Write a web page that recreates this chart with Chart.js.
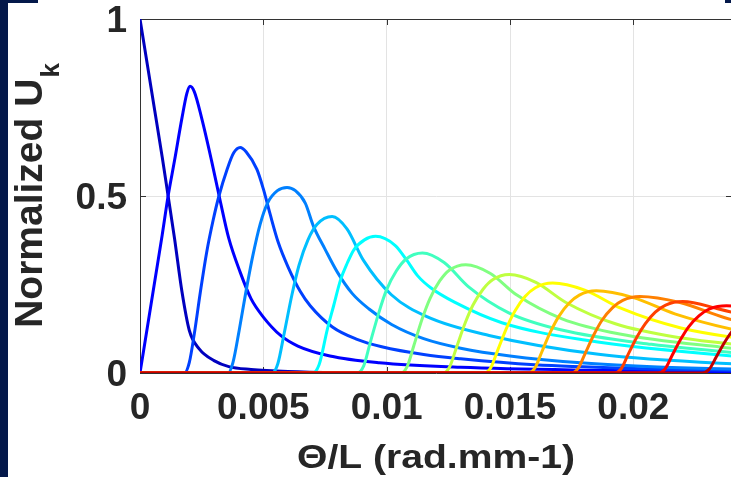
<!DOCTYPE html>
<html>
<head>
<meta charset="utf-8">
<script src="https://cdn.jsdelivr.net/npm/chart.js@4.4.1/dist/chart.umd.min.js"></script>
<style>
  html, body { margin: 0; padding: 0; background: #fff; overflow: hidden; width: 731px; height: 477px; }
  #wrap { position: relative; width: 731px; height: 477px; overflow: hidden; }
  #chart { position: absolute; left: 0; top: 0; }
  .frame { position: absolute; background: #04184a; }
</style>
</head>
<body>
<div id="wrap">
  <canvas id="chart" width="740" height="477"></canvas>
  <div class="frame" style="left:0;top:0;width:8px;height:477px;"></div>
  <div class="frame" style="left:0;top:0;width:38px;height:3px;"></div>
  <div class="frame" style="left:725px;top:0;width:6px;height:3px;"></div>
</div>
<script>
// axis ticks and labels
const xTicks = [0, 0.005, 0.01, 0.015, 0.02];
const xTickLabels = ['0', '0.005', '0.01', '0.015', '0.02'];
const yTicks = [0, 0.5, 1];
const yTickLabels = ['0', '0.5', '1'];

// Normalized U_k curves, [theta/L, value]
const u0 = [[0,1],[0.0003,0.87],[0.0006,0.74],[0.0009,0.61],[0.00114,0.5],[0.0014,0.38],[0.0017,0.23],[0.002,0.12],[0.0024,0.068],[0.003,0.035],[0.0036,0.018],[0.0045,0.01],[0.006,0.004],[0.008,0.001],[0.012,0],[0.026,0]];
const u1 = [[0,0],[0.0003,0.13],[0.0006,0.26],[0.0009,0.39],[0.00114,0.5],[0.0014,0.6],[0.0017,0.72],[0.0019,0.79],[0.00203,0.81],[0.0022,0.795],[0.0025,0.72],[0.0029,0.6],[0.00324,0.49],[0.0036,0.38],[0.00406,0.285],[0.0045,0.21],[0.005,0.158],[0.0057,0.106],[0.0064,0.076],[0.0077,0.048],[0.0097,0.029],[0.013,0.016],[0.018,0.008],[0.026,0.003]];
const u2 = [[0,0],[0.0018,0],[0.002,0.03],[0.0022,0.11],[0.00245,0.23],[0.0027,0.34],[0.00296,0.43],[0.0032,0.5],[0.00353,0.575],[0.0038,0.622],[0.00406,0.637],[0.0043,0.625],[0.00474,0.575],[0.005,0.52],[0.00527,0.45],[0.0056,0.37],[0.006,0.3],[0.0065,0.23],[0.0069,0.19],[0.0078,0.13],[0.0088,0.095],[0.0098,0.074],[0.0115,0.052],[0.013,0.04],[0.016,0.023],[0.02,0.013],[0.026,0.006]];
const u3 = [[0,0],[0.00357,0],[0.00377,0.03],[0.00402,0.12],[0.00427,0.22],[0.00457,0.33],[0.00487,0.42],[0.00517,0.48],[0.00557,0.515],[0.00596,0.524],[0.0063,0.515],[0.0067,0.48],[0.00703,0.415],[0.0075,0.35],[0.008,0.285],[0.0086,0.225],[0.0093,0.18],[0.0102,0.137],[0.0115,0.097],[0.013,0.07],[0.015,0.048],[0.018,0.028],[0.021,0.017],[0.026,0.008]];
const u4 = [[0,0],[0.00535,0],[0.00559,0.027],[0.00584,0.11],[0.00616,0.221],[0.00645,0.305],[0.00681,0.376],[0.00718,0.42],[0.00779,0.442],[0.00839,0.407],[0.00906,0.318],[0.01019,0.221],[0.01163,0.159],[0.01415,0.106],[0.01859,0.053],[0.026,0.018]];
const u5 = [[0,0],[0.007,0],[0.00726,0.023],[0.00759,0.122],[0.00785,0.19],[0.00813,0.263],[0.0084,0.31],[0.00867,0.348],[0.0091,0.376],[0.00955,0.386],[0.01035,0.36],[0.0108,0.32],[0.01125,0.275],[0.0118,0.24],[0.01275,0.2],[0.01467,0.142],[0.01803,0.093],[0.024,0.048],[0.026,0.04]];
const u6 = [[0,0],[0.0088,0],[0.00907,0.02],[0.00933,0.085],[0.00968,0.17],[0.00999,0.234],[0.01039,0.288],[0.01079,0.322],[0.01145,0.339],[0.01233,0.312],[0.01331,0.244],[0.01495,0.17],[0.01705,0.122],[0.02073,0.081],[0.026,0.046]];
const u7 = [[0,0],[0.01057,0],[0.01083,0.018],[0.0111,0.077],[0.01144,0.153],[0.01176,0.211],[0.01215,0.26],[0.01255,0.291],[0.01321,0.306],[0.01419,0.282],[0.01528,0.22],[0.01711,0.153],[0.01945,0.11],[0.02355,0.073],[0.026,0.057]];
const u8 = [[0,0],[0.01228,0],[0.01255,0.017],[0.01282,0.07],[0.01317,0.139],[0.0135,0.192],[0.0139,0.236],[0.01431,0.264],[0.01497,0.278],[0.01605,0.256],[0.01725,0.2],[0.01927,0.139],[0.02185,0.1],[0.026,0.068]];
const u9 = [[0,0],[0.01394,0],[0.01422,0.015],[0.0145,0.064],[0.01486,0.127],[0.0152,0.175],[0.01561,0.216],[0.01603,0.241],[0.01673,0.254],[0.01803,0.234],[0.01949,0.183],[0.02193,0.127],[0.02505,0.091],[0.026,0.084]];
const u10 = [[0,0],[0.01573,0],[0.01601,0.014],[0.01628,0.058],[0.01664,0.116],[0.01698,0.16],[0.01739,0.197],[0.01781,0.22],[0.0185,0.232],[0.02,0.213],[0.02168,0.167],[0.0245,0.116],[0.026,0.1]];
const u11 = [[0,0],[0.01748,0],[0.01776,0.013],[0.01804,0.054],[0.0184,0.108],[0.01873,0.149],[0.01915,0.184],[0.01957,0.205],[0.02026,0.216],[0.02189,0.199],[0.02371,0.156],[0.026,0.119]];
const u12 = [[0,0],[0.01923,0],[0.01951,0.012],[0.01978,0.051],[0.02014,0.101],[0.02048,0.139],[0.02089,0.172],[0.02131,0.192],[0.022,0.202],[0.0235,0.18],[0.026,0.135]];
const u13 = [[0,0],[0.021,0],[0.02128,0.011],[0.02156,0.048],[0.02192,0.095],[0.02225,0.131],[0.02267,0.162],[0.02309,0.181],[0.02378,0.19],[0.0245,0.185],[0.026,0.165]];
const u14 = [[0,0],[0.0228,0],[0.02308,0.011],[0.02336,0.045],[0.02372,0.089],[0.02406,0.123],[0.02448,0.151],[0.0249,0.169],[0.0256,0.178],[0.026,0.177]];

const curves = [u0, u1, u2, u3, u4, u5, u6, u7, u8, u9, u10, u11, u12, u13, u14];
const jetColors = ['#0000BF', '#0000FF', '#0040FF', '#0080FF', '#00BFFF', '#00FFFF', '#40FFBF', '#80FF80',
                   '#BFFF40', '#FFFF00', '#FFBF00', '#FF8000', '#FF4000', '#FF0000', '#BF0000'];

const textColor = '#262626';
const axisColor = '#333333';
const fontFamily = '"Liberation Sans", Arial, Helvetica, sans-serif';

// box, inward tick marks and the two axis titles
const axesDecor = {
  id: 'axesDecor',
  beforeDatasetsDraw(chart) {
    const { ctx, chartArea: a, scales: { x, y } } = chart;
    ctx.save();
    ctx.strokeStyle = axisColor;
    ctx.lineWidth = 1;
    ctx.beginPath();
    ctx.moveTo(a.left, a.top + 0.5);
    ctx.lineTo(a.right, a.top + 0.5);
    xTicks.forEach(v => {
      const px = Math.round(x.getPixelForValue(v)) + 0.5;
      ctx.moveTo(px, a.bottom); ctx.lineTo(px, a.bottom - 6);
      ctx.moveTo(px, a.top); ctx.lineTo(px, a.top + 6);
    });
    yTicks.forEach(v => {
      const py = Math.round(y.getPixelForValue(v)) + 0.5;
      ctx.moveTo(a.left, py); ctx.lineTo(a.left + 6, py);
      ctx.moveTo(a.right, py); ctx.lineTo(a.right - 6, py);
    });
    ctx.stroke();
    ctx.restore();
  },
  afterDraw(chart) {
    const { ctx, chartArea: a } = chart;
    ctx.save();
    ctx.fillStyle = textColor;
    ctx.textBaseline = 'alphabetic';
    ctx.textAlign = 'left';

    // y title with subscript k
    const mainFont = 'bold 39px ' + fontFamily;
    const subFont = 'bold 26px ' + fontFamily;
    ctx.font = mainFont;
    const wMain = ctx.measureText('Normalized U').width;
    ctx.font = subFont;
    const wSub = ctx.measureText('k').width;
    const midY = (a.top + a.bottom) / 2;
    ctx.translate(42, midY + (wMain + wSub) / 2);
    ctx.rotate(-Math.PI / 2);
    ctx.font = mainFont;
    ctx.fillText('Normalized U', 0, 0);
    ctx.font = subFont;
    ctx.fillText('k', wMain + 1, 17);
    ctx.setTransform(1, 0, 0, 1, 0, 0);

    // x title
    ctx.font = 'bold 34px ' + fontFamily;
    const xt = '\u0398/L (rad.mm-1)';
    const w = ctx.measureText(xt).width;
    const sx = 278 / w;
    ctx.translate((a.left + a.right) / 2, 468);
    ctx.scale(sx, 1);
    ctx.textAlign = 'center';
    ctx.fillText(xt, 0, 0);
    ctx.restore();
  }
};

new Chart(document.getElementById('chart'), {
  type: 'line',
  data: {
    datasets: curves.map((pts, k) => ({
      label: 'k=' + k,
      data: pts.map(([x, y]) => ({ x, y })),
      borderColor: jetColors[k],
      borderWidth: 3,
      pointRadius: 0,
      fill: false,
      cubicInterpolationMode: 'monotone',
      order: curves.length - k
    }))
  },
  options: {
    responsive: false,
    animation: false,
    devicePixelRatio: 1,
    layout: { padding: { top: 19, right: 8, left: 0, bottom: 0 } },
    plugins: { legend: { display: false }, tooltip: { enabled: false } },
    scales: {
      x: {
        type: 'linear',
        min: 0,
        max: 0.024,
        afterBuildTicks: scale => { scale.ticks = xTicks.map(value => ({ value })); },
        afterFit: scale => { scale.height = 104; scale.paddingLeft = 0; scale.paddingRight = 0; },
        grid: { color: '#e3e3e3', lineWidth: 1, drawTicks: false },
        border: { color: axisColor, width: 1 },
        ticks: {
          padding: 17,
          maxRotation: 0,
          color: textColor,
          font: { family: fontFamily, size: 37, weight: 'bold', lineHeight: 1 },
          callback: (v, i) => xTickLabels[i]
        }
      },
      y: {
        type: 'linear',
        min: 0,
        max: 1,
        afterBuildTicks: scale => { scale.ticks = yTicks.map(value => ({ value })); },
        afterFit: scale => { scale.width = 140; scale.paddingTop = 0; scale.paddingBottom = 0; },
        grid: { color: '#e3e3e3', lineWidth: 1, drawTicks: false },
        border: { color: axisColor, width: 1 },
        ticks: {
          padding: 13,
          labelOffset: 3,
          color: textColor,
          font: { family: fontFamily, size: 37, weight: 'bold', lineHeight: 1 },
          callback: (v, i) => yTickLabels[i]
        }
      }
    }
  },
  plugins: [axesDecor]
});
</script>
</body>
</html>
